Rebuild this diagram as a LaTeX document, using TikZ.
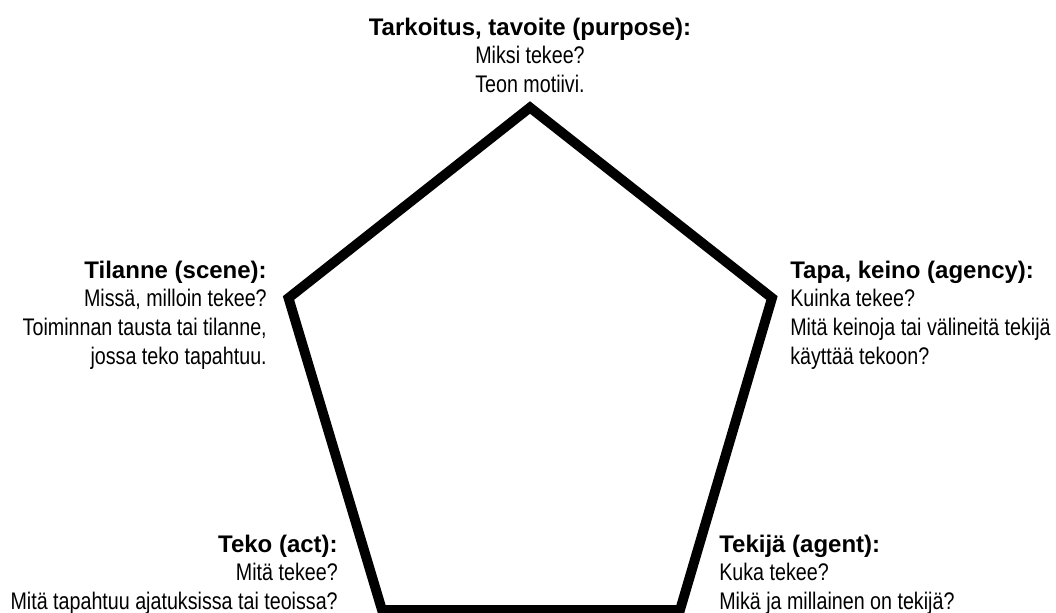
\documentclass[tikz,border=0pt]{standalone}
\usepackage{fontspec}
\setmainfont{Liberation Sans}
\newfontfamily\narrowfont[FakeStretch=0.82]{Liberation Sans}
\usetikzlibrary{positioning}
\newcommand{\ttl}[1]{{\normalfont\bfseries #1}}

\begin{document}
\begin{tikzpicture}[x=0.025cm, y=-0.025cm,
  edge/.style={line width=0.245cm, line join=miter, black},
  lbl/.style={inner sep=0pt, font=\narrowfont\fontsize{17.07pt}{20.4pt}\selectfont},
]
\useasboundingbox (0,0) rectangle (1056,612);

% corners of the pentagon
\coordinate (purpose) at (530,107.5);
\coordinate (agency) at (772,298);
\coordinate (agent) at (680,610);
\coordinate (act) at (382,610);
\coordinate (scene) at (288.5,298);

\draw[edge] (purpose) -- (agency) -- (agent) -- (act) -- (scene) -- cycle;

% labels
\node[lbl, anchor=north, align=center] (tpurpose) at (530,17.5)
  {\ttl{Tarkoitus, tavoite (purpose):}\\ Miksi tekee?\\ Teon motiivi.};
\node[lbl, anchor=north east, align=right] (tscene) at (267,260.5)
  {\ttl{Tilanne (scene):}\\ Missä, milloin tekee?\\ Toiminnan tausta tai tilanne,\\ jossa teko tapahtuu.};
\node[lbl, anchor=north west, align=left] (tagency) at (790,260.5)
  {\ttl{Tapa, keino (agency):}\\ Kuinka tekee?\\ Mitä keinoja tai välineitä tekijä\\ käyttää tekoon?};
\node[lbl, anchor=north east, align=right] (tact) at (338,534.5)
  {\ttl{Teko (act):}\\ Mitä tekee?\\ Mitä tapahtuu ajatuksissa tai teoissa?};
\node[lbl, anchor=north west, align=left] (tagent) at (719,534.5)
  {\ttl{Tekijä (agent):}\\ Kuka tekee?\\ Mikä ja millainen on tekijä?};
\end{tikzpicture}
\end{document}
